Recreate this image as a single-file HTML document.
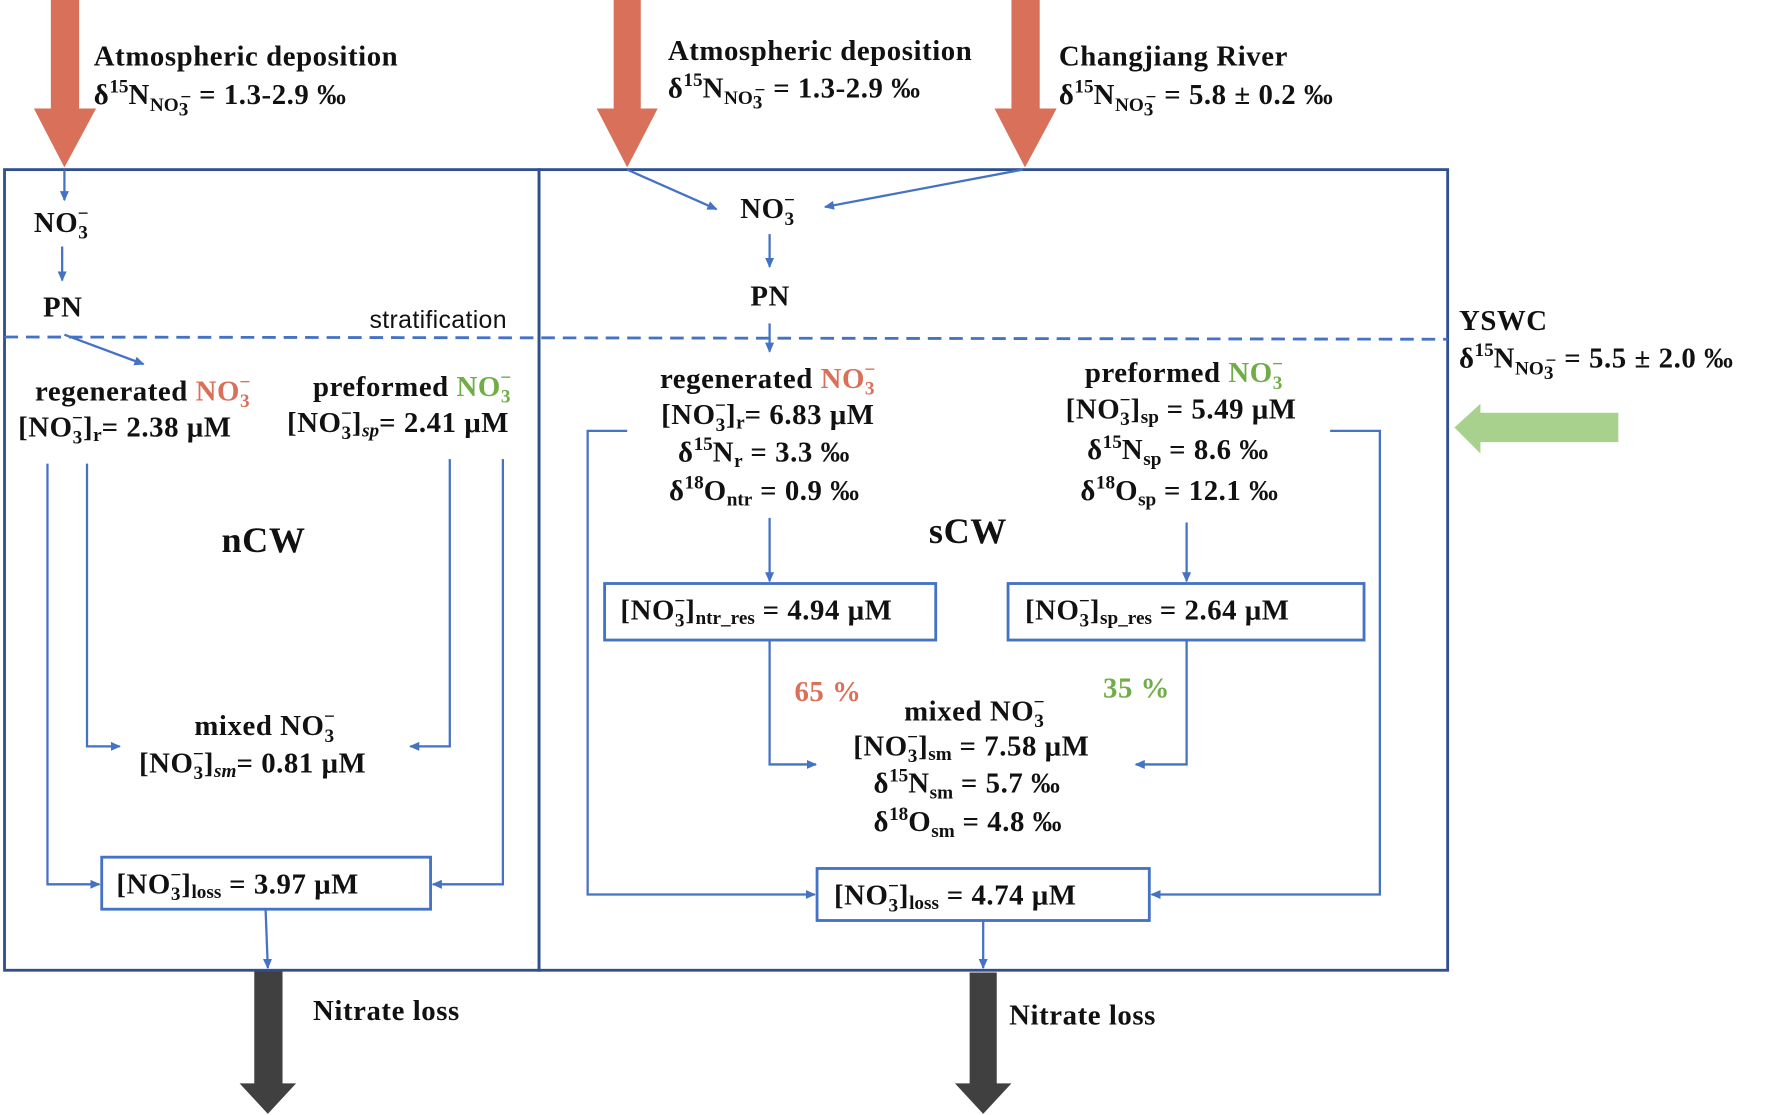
<!DOCTYPE html>
<html><head><meta charset="utf-8"><style>
html,body{margin:0;padding:0;background:#fff;}
svg{display:block;}
text{font-family:"Liberation Serif",serif;font-weight:bold;font-size:25.5px;letter-spacing:0.5px;fill:#111;}
.s{font-size:17px;letter-spacing:0;}
.r{fill:#d9705a;}
.g{fill:#70ad47;}
</style></head><body>
<svg width="1772" height="1115" viewBox="0 0 1568 986" preserveAspectRatio="none" xmlns="http://www.w3.org/2000/svg">
<defs>
<marker id="a" markerWidth="10" markerHeight="10" refX="8" refY="5" orient="auto" markerUnits="userSpaceOnUse">
<path d="M0,1 L9,5 L0,9 z" fill="#4472c4"/></marker>
</defs>
<g fill="#d9705a">
<polygon points="45,0 70,0 70,96 85,96 57,148 30,96 45,96"/>
<polygon points="543,0 567,0 567,96 582,96 555,148 528,96 543,96"/>
<polygon points="895,0 920,0 920,96 935,96 907,148 880,96 895,96"/>
</g>
<polygon points="1432,365 1310,365 1310,357 1287,378 1310,401 1310,391 1432,391" fill="#a9d18e"/>
<polygon points="225,858 250,858 250,958 262,958 237,985 212,958 225,958" fill="#404040"/>
<polygon points="858,860 882,860 882,958 895,958 870,985 845,958 858,958" fill="#404040"/>
<g fill="none" stroke="#2f4f8f" stroke-width="2.5">
<rect x="4" y="150" width="473" height="708"/>
<rect x="477" y="150" width="804" height="708"/>
</g>
<line x1="4" y1="298" x2="1281" y2="300" stroke="#4472c4" stroke-width="2.5" stroke-dasharray="12,7"/>
<g fill="none" stroke="#4472c4" stroke-width="2.5">
<rect x="90" y="758" width="291" height="46"/>
<rect x="535" y="516" width="293" height="50"/>
<rect x="892" y="516" width="315" height="50"/>
<rect x="723" y="768" width="294" height="46"/>
</g>
<g fill="none" stroke="#4472c4" stroke-width="2" marker-end="url(#a)">
<path d="M57,150 V177"/>
<path d="M55,218 V248"/>
<path d="M57,296 L127,322"/>
<path d="M42,410 V782 H88"/>
<path d="M77,410 V660 H106"/>
<path d="M398,406 V660 H363"/>
<path d="M445,406 V782 H383"/>
<path d="M235,804 L237,856"/>
<path d="M555,150 L634,185"/>
<path d="M905,150 L730,183"/>
<path d="M681,207 V236"/>
<path d="M681,286 V311"/>
<path d="M681,458 V514"/>
<path d="M1050,462 V514"/>
<path d="M681,566 V676 H722"/>
<path d="M1050,566 V676 H1005"/>
<path d="M555,381 H520 V791 H721"/>
<path d="M1177,381 H1221 V791 H1019"/>
<path d="M870,814 V856"/>
</g>
<text x="83" y="58">Atmospheric deposition</text>
<text x="83" y="92">δ<tspan class="s" dy="-10">15</tspan><tspan dy="10">N</tspan><tspan class="s" dy="6">NO</tspan><tspan class="s" font-size="13" dy="4">3</tspan><tspan class="s" font-size="12" dx="-7" dy="-11">−</tspan><tspan dy="1"> = 1.3-2.9 ‰</tspan></text>
<text x="591" y="53">Atmospheric deposition</text>
<text x="591" y="86">δ<tspan class="s" dy="-10">15</tspan><tspan dy="10">N</tspan><tspan class="s" dy="6">NO</tspan><tspan class="s" font-size="13" dy="4">3</tspan><tspan class="s" font-size="12" dx="-7" dy="-11">−</tspan><tspan dy="1"> = 1.3-2.9 ‰</tspan></text>
<text x="937" y="58">Changjiang River</text>
<text x="937" y="92">δ<tspan class="s" dy="-10">15</tspan><tspan dy="10">N</tspan><tspan class="s" dy="6">NO</tspan><tspan class="s" font-size="13" dy="4">3</tspan><tspan class="s" font-size="12" dx="-7" dy="-11">−</tspan><tspan dy="1"> = 5.8 ± 0.2 ‰</tspan></text>
<text x="1291" y="292">YSWC</text>
<text x="1291" y="325">δ<tspan class="s" dy="-10">15</tspan><tspan dy="10">N</tspan><tspan class="s" dy="6">NO</tspan><tspan class="s" font-size="13" dy="4">3</tspan><tspan class="s" font-size="12" dx="-7" dy="-11">−</tspan><tspan dy="1"> = 5.5 ± 2.0 ‰</tspan></text>

<text x="30" y="205">NO<tspan class="s" dy="6">3</tspan><tspan class="s" dx="-9" dy="-17">−</tspan></text>
<text x="38" y="280">PN</text>
<text x="327" y="290" style="font-family:'Liberation Sans',sans-serif;font-weight:normal;font-size:22px;letter-spacing:0.3px">stratification</text>
<text x="655" y="193">NO<tspan class="s" dy="6">3</tspan><tspan class="s" dx="-9" dy="-17">−</tspan></text>
<text x="664" y="270">PN</text>

<text x="31" y="354">regenerated <tspan class="r">NO</tspan><tspan class="s r" dy="6">3</tspan><tspan class="s r" dx="-9" dy="-17">−</tspan></text>
<text x="16" y="386">[NO<tspan class="s" dy="6">3</tspan><tspan class="s" dx="-9" dy="-17">−</tspan><tspan dy="11">]</tspan><tspan class="s" dy="4">r</tspan><tspan dy="-4">= 2.38 μM</tspan></text>
<text x="277" y="350">preformed <tspan class="g">NO</tspan><tspan class="s g" dy="6">3</tspan><tspan class="s g" dx="-9" dy="-17">−</tspan></text>
<text x="254" y="382">[NO<tspan class="s" dy="6">3</tspan><tspan class="s" dx="-9" dy="-17">−</tspan><tspan dy="11">]</tspan><tspan class="s" font-style="italic" dy="4">sp</tspan><tspan dy="-4">= 2.41 μM</tspan></text>
<text x="196" y="488" style="font-size:32px">nCW</text>
<text x="172" y="650">mixed NO<tspan class="s" dy="6">3</tspan><tspan class="s" dx="-9" dy="-17">−</tspan></text>
<text x="123" y="683">[NO<tspan class="s" dy="6">3</tspan><tspan class="s" dx="-9" dy="-17">−</tspan><tspan dy="11">]</tspan><tspan class="s" font-style="italic" dy="4">sm</tspan><tspan dy="-4">= 0.81 μM</tspan></text>
<text x="103" y="790">[NO<tspan class="s" dy="6">3</tspan><tspan class="s" dx="-9" dy="-17">−</tspan><tspan dy="11">]</tspan><tspan class="s" dy="4">loss</tspan><tspan dy="-4"> = 3.97 μM</tspan></text>

<text x="584" y="343">regenerated <tspan class="r">NO</tspan><tspan class="s r" dy="6">3</tspan><tspan class="s r" dx="-9" dy="-17">−</tspan></text>
<text x="585" y="375">[NO<tspan class="s" dy="6">3</tspan><tspan class="s" dx="-9" dy="-17">−</tspan><tspan dy="11">]</tspan><tspan class="s" dy="4">r</tspan><tspan dy="-4">= 6.83 μM</tspan></text>
<text x="600" y="408">δ<tspan class="s" dy="-10">15</tspan><tspan dy="10">N</tspan><tspan class="s" dy="5">r</tspan><tspan dy="-5"> = 3.3 ‰</tspan></text>
<text x="592" y="442">δ<tspan class="s" dy="-10">18</tspan><tspan dy="10">O</tspan><tspan class="s" dy="5">ntr</tspan><tspan dy="-5"> = 0.9 ‰</tspan></text>
<text x="960" y="338">preformed <tspan class="g">NO</tspan><tspan class="s g" dy="6">3</tspan><tspan class="s g" dx="-9" dy="-17">−</tspan></text>
<text x="943" y="370">[NO<tspan class="s" dy="6">3</tspan><tspan class="s" dx="-9" dy="-17">−</tspan><tspan dy="11">]</tspan><tspan class="s" dy="4">sp</tspan><tspan dy="-4"> = 5.49 μM</tspan></text>
<text x="962" y="406">δ<tspan class="s" dy="-10">15</tspan><tspan dy="10">N</tspan><tspan class="s" dy="5">sp</tspan><tspan dy="-5"> = 8.6 ‰</tspan></text>
<text x="956" y="442">δ<tspan class="s" dy="-10">18</tspan><tspan dy="10">O</tspan><tspan class="s" dy="5">sp</tspan><tspan dy="-5"> = 12.1 ‰</tspan></text>
<text x="822" y="480" style="font-size:32px">sCW</text>
<text x="549" y="548">[NO<tspan class="s" dy="6">3</tspan><tspan class="s" dx="-9" dy="-17">−</tspan><tspan dy="11">]</tspan><tspan class="s" dy="4">ntr_res</tspan><tspan dy="-4"> = 4.94 μM</tspan></text>
<text x="907" y="548">[NO<tspan class="s" dy="6">3</tspan><tspan class="s" dx="-9" dy="-17">−</tspan><tspan dy="11">]</tspan><tspan class="s" dy="4">sp_res</tspan><tspan dy="-4"> = 2.64 μM</tspan></text>
<text x="703" y="620" class="r">65 %</text>
<text x="976" y="617" class="g">35 %</text>
<text x="800" y="637">mixed NO<tspan class="s" dy="6">3</tspan><tspan class="s" dx="-9" dy="-17">−</tspan></text>
<text x="755" y="668">[NO<tspan class="s" dy="6">3</tspan><tspan class="s" dx="-9" dy="-17">−</tspan><tspan dy="11">]</tspan><tspan class="s" dy="4">sm</tspan><tspan dy="-4"> = 7.58 μM</tspan></text>
<text x="773" y="701">δ<tspan class="s" dy="-10">15</tspan><tspan dy="10">N</tspan><tspan class="s" dy="5">sm</tspan><tspan dy="-5"> = 5.7 ‰</tspan></text>
<text x="773" y="735">δ<tspan class="s" dy="-10">18</tspan><tspan dy="10">O</tspan><tspan class="s" dy="5">sm</tspan><tspan dy="-5"> = 4.8 ‰</tspan></text>
<text x="738" y="800">[NO<tspan class="s" dy="6">3</tspan><tspan class="s" dx="-9" dy="-17">−</tspan><tspan dy="11">]</tspan><tspan class="s" dy="4">loss</tspan><tspan dy="-4"> = 4.74 μM</tspan></text>
<text x="277" y="902">Nitrate loss</text>
<text x="893" y="906">Nitrate loss</text>
</svg>
</body></html>
